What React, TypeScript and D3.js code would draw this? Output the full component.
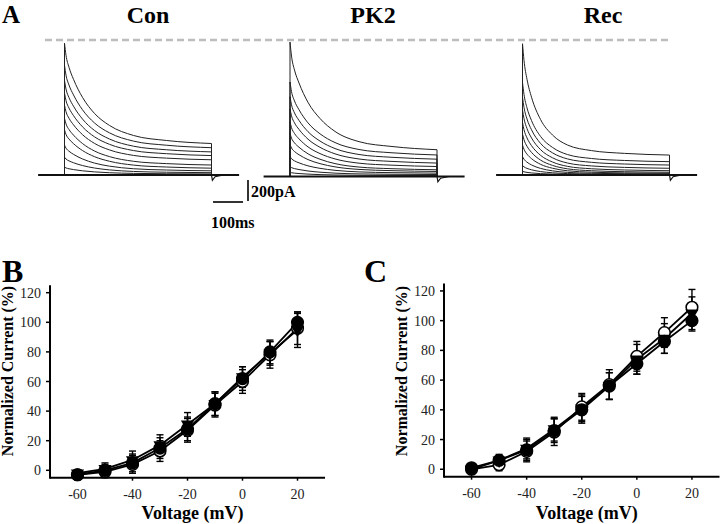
import React from "react";
import * as d3 from "d3";

// ---- panel A: current traces (pA, ms) ----
const groups = ["Con", "PK2", "Rec"];
const decayTimes = [0, 5, 15, 30, 60, 100, 150, 230, 340, 490];
// fraction of the transient part still left at each decayTime
const decayCon = [1, 0.88, 0.76, 0.64, 0.46, 0.3, 0.18, 0.08, 0.03, 0];
const decayPK2 = [1, 0.87, 0.74, 0.62, 0.44, 0.29, 0.17, 0.075, 0.03, 0];
const decayRec = [1, 0.85, 0.68, 0.52, 0.32, 0.18, 0.09, 0.04, 0.015, 0];
const peakCon = [1255, 1045, 900, 780, 665, 540, 430, 285, 170, 75];
const peakPK2 = [1280, 900, 760, 645, 520, 410, 305, 190, 95, 40];
const peakRec = [1250, 880, 740, 620, 500, 390, 285, 175, 90, 35];
const ssCon = [300, 260, 220, 185, 145, 95, 65, 40, 22, 10];
const ssPK2 = [255, 205, 165, 128, 95, 64, 48, 32, 19, 9];
const ssRec = [190, 127, 95, 64, 41, 26, 16, 10, 6, 3];
const tailDip = -50;

// ---- panels B, C: I-V curves ----
const voltages = [-60, -50, -40, -30, -20, -10, 0, 10, 20];
const xTicks = [-60, -40, -20, 0, 20];
const yTicks = [0, 20, 40, 60, 80, 100, 120];

const bFilled = [-3, 0, 5, 15, 28, 45, 62, 80, 100];
const bOpen = [-3, -1, 4, 13, 27, 44, 60, 78, 96];
const bTri = [-2, 1, 7, 17, 31, 45, 63, 79, 95];
const bFilledErr = [1, 4, 6, 7, 8, 8, 8, 8, 6];
const bOpenErr = [1, 4, 6, 7, 8, 8, 8, 9, 11];
const bTriErr = [1, 4, 6, 7, 8, 8, 7, 8, 12];

const cFilled = [1, 6, 13, 26, 40, 56, 71, 86, 100];
const cOpen = [0, 3, 12, 25, 42, 57, 76, 92, 109];
const cTri = [0, 6, 14, 27, 41, 56, 74, 88, 105];
const cFilledErr = [1, 3, 7, 8, 9, 9, 7, 8, 7];
const cOpenErr = [1, 4, 7, 9, 9, 10, 10, 10, 12];
const cTriErr = [1, 4, 7, 8, 9, 9, 10, 10, 11];

const serif = "'Liberation Serif', 'Times New Roman', serif";

type Series = { vals: number[]; err: number[]; kind: "filled" | "open" | "tri" };

function TracesGroup({ onset, base, decay, peaks, ss }: { onset: number; base: number; decay: number[]; peaks: number[]; ss: number[] }) {
  const x = d3.scaleLinear().domain([0, 100]).range([onset, onset + 30]);
  const y = d3.scaleLinear().domain([0, 200]).range([base, base - 21]);
  const tEnd = decayTimes[decayTimes.length - 1];
  const line = d3.line<[number, number]>().x(d => x(d[0])).y(d => y(d[1])).curve(d3.curveMonotoneX);
  return (
    <g>
      {peaks.map((p, i) => {
        const pts: [number, number][] = decayTimes.map((t, k) => [t, ss[i] + (p - ss[i]) * decay[k]]);
        const d = `M${x(0)},${y(0)}L` + (line(pts) ?? "").slice(1) + `L${x(tEnd)},${y(0)}`;
        return <path key={i} d={d} fill="none" stroke="#222" strokeWidth={1} />;
      })}
      <line x1={x(-88)} x2={x(582)} y1={y(0)} y2={y(0)} stroke="#111" strokeWidth={1.8} />
      <path d={`M${x(tEnd)},${y(0)}L${x(tEnd + 3)},${y(tailDip)}L${x(tEnd + 12)},${y(tailDip / 3)}L${x(tEnd + 40)},${y(0)}`}
        fill="none" stroke="#111" strokeWidth={1.2} />
    </g>
  );
}

function IVPanel({ x0, x1, yBottom, yTop, series, label, labelX }: {
  x0: number; x1: number; yBottom: number; yTop: number; series: Series[]; label: string; labelX: number;
}) {
  const x = d3.scaleLinear().domain([-70, 30]).range([x0, x1]);
  const y = d3.scaleLinear().domain([-5, 125]).range([yBottom, yTop]);
  const line = d3.line<number>().x((_, i) => x(voltages[i])).y(d => y(d));
  const tri = d3.symbol().type(d3.symbolTriangle).size(75)();
  return (
    <g fontFamily={serif}>
      <text x={labelX} y={282} fontSize={32} fontWeight="bold">{label}</text>
      {/* axes */}
      <line x1={x0} x2={x0} y1={yBottom + 1} y2={yTop} stroke="#000" strokeWidth={2} />
      <line x1={x0} x2={x1} y1={yBottom} y2={yBottom} stroke="#000" strokeWidth={2} />
      {yTicks.map(t => (
        <g key={t}>
          <line x1={x0 - 4} x2={x0} y1={y(t)} y2={y(t)} stroke="#000" strokeWidth={1.5} />
          <text x={x0 - 9} y={y(t) + 5} fontSize={14} textAnchor="end" fill="#222">{t}</text>
        </g>
      ))}
      {xTicks.map(t => (
        <g key={t}>
          <line x1={x(t)} x2={x(t)} y1={yBottom} y2={yBottom + 3} stroke="#000" strokeWidth={1.5} />
          <text x={x(t)} y={yBottom + 21} fontSize={14} textAnchor="middle" fill="#222">{t}</text>
        </g>
      ))}
      <text transform={`translate(${x0 - 37},${371}) rotate(-90)`} fontSize={16} fontWeight="bold" textAnchor="middle">
        Normalized Current (%)
      </text>
      <text x={(x0 + x1) / 2 + 5} y={519} fontSize={18} fontWeight="bold" textAnchor="middle">Voltage (mV)</text>
      {/* error bars */}
      {series.map((s, si) => s.vals.map((v, i) => (
        <g key={`e${si}-${i}`} stroke="#000" strokeWidth={1.4}>
          <line x1={x(voltages[i])} x2={x(voltages[i])} y1={y(v - s.err[i])} y2={y(v + s.err[i])} />
          <line x1={x(voltages[i]) - 3.5} x2={x(voltages[i]) + 3.5} y1={y(v + s.err[i])} y2={y(v + s.err[i])} />
          <line x1={x(voltages[i]) - 3.5} x2={x(voltages[i]) + 3.5} y1={y(v - s.err[i])} y2={y(v - s.err[i])} />
        </g>
      )))}
      {series.map((s, si) => (
        <path key={`l${si}`} d={line(s.vals) ?? ""} fill="none" stroke="#000" strokeWidth={1.8} />
      ))}
      {series.map((s, si) => s.vals.map((v, i) => {
        const cx = x(voltages[i]);
        const cy = y(v);
        if (s.kind === "tri")
          return <path key={`m${si}-${i}`} d={tri ?? ""} transform={`translate(${cx},${cy}) rotate(180)`} fill="#000" />;
        return (
          <circle key={`m${si}-${i}`} cx={cx} cy={cy} r={5.8}
            fill={s.kind === "filled" ? "#000" : "#fff"} stroke="#000" strokeWidth={1.6} />
        );
      }))}
    </g>
  );
}

export default function App() {
  const onsets = [64.5, 290, 522.5];
  const bases = [175, 176.5, 175];
  const decays = [decayCon, decayPK2, decayRec];
  const peaks = [peakCon, peakPK2, peakRec];
  const sss = [ssCon, ssPK2, ssRec];
  const titleX = [148, 373, 603];

  const bSeries: Series[] = [
    { vals: bOpen, err: bOpenErr, kind: "open" },
    { vals: bTri, err: bTriErr, kind: "tri" },
    { vals: bFilled, err: bFilledErr, kind: "filled" },
  ];
  const cSeries: Series[] = [
    { vals: cOpen, err: cOpenErr, kind: "open" },
    { vals: cTri, err: cTriErr, kind: "tri" },
    { vals: cFilled, err: cFilledErr, kind: "filled" },
  ];

  return (
    <svg width={720} height={524} style={{ position: "absolute", left: 0, top: 0, background: "#fff" }}>
      <rect width={720} height={524} fill="#fff" />
      <g fontFamily={serif}>
        <text x={2} y={23} fontSize={25} fontWeight="bold">A</text>
        {groups.map((g, i) => (
          <text key={g} x={titleX[i]} y={23} fontSize={24} fontWeight="bold" textAnchor="middle">{g}</text>
        ))}
      </g>
      <line x1={45} x2={668} y1={40} y2={40} stroke="#bdbdbd" strokeWidth={2.5} strokeDasharray="7,4" />
      {groups.map((g, i) => (
        <TracesGroup key={g} onset={onsets[i]} base={bases[i]} decay={decays[i]} peaks={peaks[i]} ss={sss[i]} />
      ))}
      {/* scale bars */}
      <line x1={213} x2={243} y1={202} y2={202} stroke="#000" strokeWidth={1.6} />
      <line x1={248} x2={248} y1={180} y2={201} stroke="#000" strokeWidth={1.6} />
      <text x={251} y={197} fontFamily={serif} fontSize={16} fontWeight="bold">200pA</text>
      <text x={211} y={228} fontFamily={serif} fontSize={16} fontWeight="bold">100ms</text>

      <IVPanel x0={50} x1={325} yBottom={477.7} yTop={285.3} series={bSeries} label="B" labelX={2} />
      <IVPanel x0={444} x1={719.5} yBottom={476.7} yTop={283.5} series={cSeries} label="C" labelX={364} />
    </svg>
  );
}
